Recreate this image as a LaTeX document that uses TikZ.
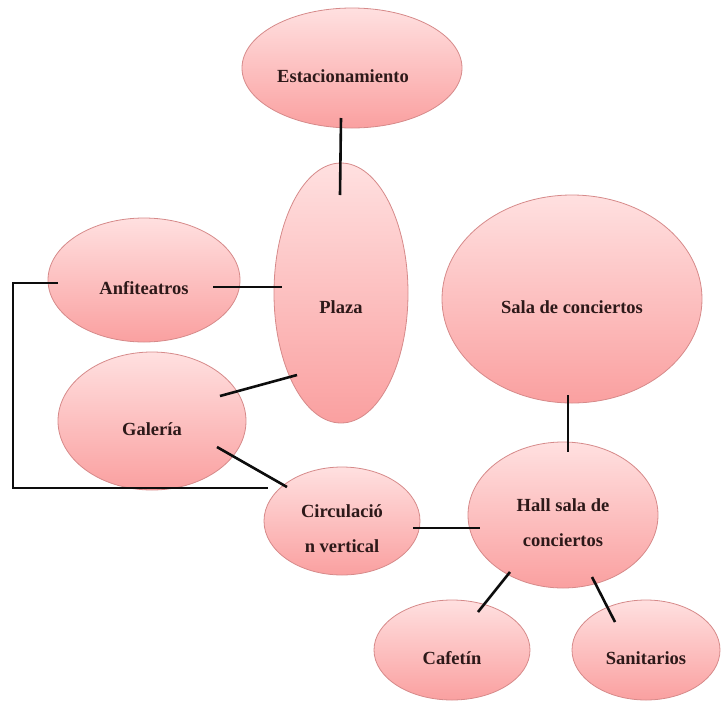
\documentclass[tikz,border=0pt]{standalone}
\usepackage{fontspec}
\setmainfont{Liberation Serif}
\usetikzlibrary{shapes,calc}

\definecolor{roomtop}{RGB}{255,224,224}
\definecolor{roombot}{RGB}{250,160,160}
\definecolor{roomline}{RGB}{214,138,138}
\definecolor{roomtext}{RGB}{45,25,25}

\begin{document}
\begin{tikzpicture}[x=1pt, y=-1pt,
  room/.style={ellipse, draw=roomline, line width=0.8pt, top color=roomtop, bottom color=roombot, inner sep=0pt},
  txt/.style={yshift=-8pt, font=\bfseries\fontsize{18.5}{35}\selectfont, text=roomtext, align=center},
  link/.style={line width=2.6pt, black!95}]

  \useasboundingbox (0,0) rectangle (721,705);

  %% rooms
  \node[room, minimum width=220, minimum height=120, label={[txt, xshift=-9pt]center:Estacionamiento}] (est) at (352,68) {};
  \node[room, minimum width=134, minimum height=260, label={[txt, yshift=-6pt]center:Plaza}] (plaza) at (341,293) {};
  \node[room, minimum width=192, minimum height=124, label={[txt]center:Anfiteatros}] (anf) at (144,280) {};
  \node[room, minimum width=188, minimum height=138, label={[txt]center:Galería}] (gal) at (152,421) {};
  \node[room, minimum width=156, minimum height=108, label={[txt]center:Circulació\\n vertical}] (circ) at (342,521) {};
  \node[room, minimum width=260, minimum height=208, label={[txt]center:Sala de conciertos}] (sala) at (572,299) {};
  \node[room, minimum width=190, minimum height=146, label={[txt]center:Hall sala de\\conciertos}] (hall) at (563,515) {};
  \node[room, minimum width=156, minimum height=100, label={[txt]center:Cafetín}] (caf) at (452,650) {};
  \node[room, minimum width=148, minimum height=100, label={[txt]center:Sanitarios}] (san) at (646,650) {};

  %% links
  \draw[link] ($(est)+(-11,50)$) -- ($(plaza)+(-1,-98)$); %% est->plaza
  \draw[link] ($(anf)+(69,7)$) -- ($(plaza)+(-59,-6)$); %% anf->plaza
  \draw[link] ($(gal)+(68,-25)$) -- ($(plaza)+(-44,82)$); %% gal->plaza
  \draw[link] ($(gal)+(65,26)$) -- ($(circ)+(-55,-34)$); %% gal->circ
  \draw[link] ($(circ)+(71,7)$) -- ($(hall)+(-83,13)$); %% circ->hall
  \draw[link] ($(sala)+(-4,96)$) -- ($(hall)+(5,-63)$); %% sala->hall
  \draw[link] ($(hall)+(-53,57)$) -- ($(caf)+(26,-38)$); %% hall->caf
  \draw[link] ($(hall)+(29,62)$) -- ($(san)+(-31,-28)$); %% hall->san
  \draw[link] ($(anf)+(-86,3)$) -- ++(-45,0) |- ($(circ)+(-74,-33)$); %% anf->circ
\end{tikzpicture}
\end{document}
